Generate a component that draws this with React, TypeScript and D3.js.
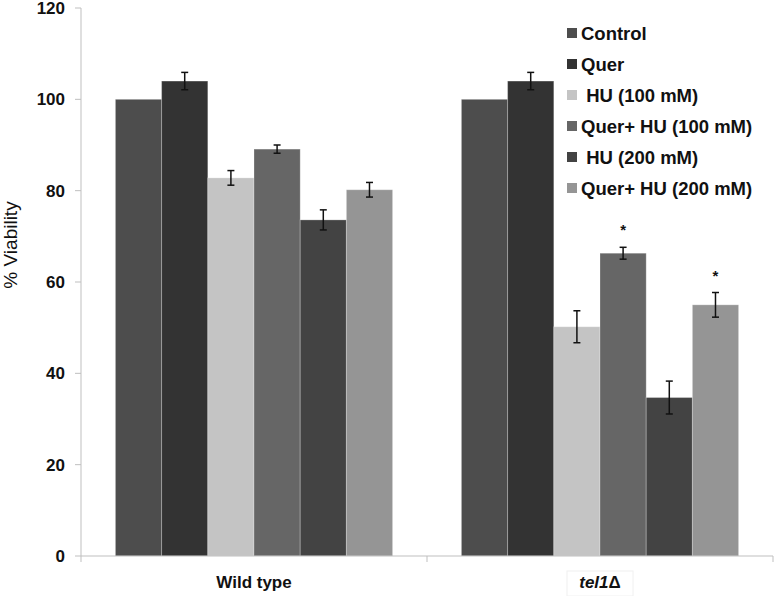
import React from "react";
import * as d3 from "d3";

const categories = ["Wild type", "tel1Δ"];
const seriesNames = ["Control", "Quer", " HU (100 mM)", "Quer+ HU (100 mM)", " HU (200 mM)", "Quer+ HU (200 mM)"];
const seriesColors = ["#4d4d4d", "#333333", "#c4c4c4", "#666666", "#434343", "#959595"];
const wildTypeValues = [100, 104.0, 82.8, 89.1, 73.6, 80.2];
const wildTypeErrors = [0, 1.9, 1.6, 0.9, 2.2, 1.6];
const tel1Values = [100, 104.0, 50.2, 66.3, 34.7, 55.0];
const tel1Errors = [0, 1.9, 3.5, 1.3, 3.6, 2.7];
const tel1Significant = [false, false, false, true, false, true];
const yTicks = [0, 20, 40, 60, 80, 100, 120];

const W = 774, H = 596;
const left = 81, right = 773, top = 8, bottom = 556;

export default function App() {
  const x0 = d3.scaleBand<string>().domain(categories).range([left, right]).paddingInner(0).paddingOuter(0);
  const x1 = d3.scaleBand<string>().domain(seriesNames).range([0, x0.bandwidth()]).paddingInner(0).paddingOuter(0.745);
  const y = d3.scaleLinear().domain([0, 120]).range([bottom, top]);

  const groups = [
    { cat: categories[0], values: wildTypeValues, errors: wildTypeErrors, sig: seriesNames.map(() => false) },
    { cat: categories[1], values: tel1Values, errors: tel1Errors, sig: tel1Significant },
  ];
  const font = "'Liberation Sans', Arial, sans-serif";
  const axisColor = "#bfbfbf";
  const telCx = x0(categories[1])! + x0.bandwidth() / 2;

  return (
    <svg width={W} height={H} style={{ position: "absolute", left: 0, top: 0, background: "#fff" }}>
      <rect x={0} y={0} width={W} height={H} fill="#fff" />
      {groups.map((g) => (
        <g key={g.cat} transform={`translate(${x0(g.cat)},0)`}>
          {g.values.map((v, i) => {
            const bx = x1(seriesNames[i])!;
            const bw = x1.bandwidth();
            const cx = bx + bw / 2;
            const e = g.errors[i];
            return (
              <g key={i}>
                <rect x={bx} y={y(v)} width={bw} height={bottom - y(v)} fill={seriesColors[i]} stroke="#ffffff" strokeOpacity={0.25} strokeWidth={1} />
                {e > 0 && (
                  <g stroke="#111" strokeWidth={1.5}>
                    <line x1={cx} x2={cx} y1={y(v + e)} y2={y(v - e)} />
                    <line x1={cx - 3.5} x2={cx + 3.5} y1={y(v + e)} y2={y(v + e)} />
                    <line x1={cx - 3.5} x2={cx + 3.5} y1={y(v - e)} y2={y(v - e)} />
                  </g>
                )}
                {g.sig[i] && (
                  <text x={cx} y={y(v + e) - 12} textAnchor="middle" fontFamily={font} fontWeight="bold" fontSize={15} fill="#111">*</text>
                )}
              </g>
            );
          })}
        </g>
      ))}
      <line x1={left} x2={left} y1={top} y2={bottom} stroke={axisColor} strokeWidth={1} />
      {yTicks.map((t) => (
        <g key={t}>
          <line x1={left - 6} x2={left} y1={y(t)} y2={y(t)} stroke={axisColor} />
          <text x={65} y={y(t)} dy="0.36em" textAnchor="end" fontFamily={font} fontWeight="bold" fontSize={17} fill="#111">{t}</text>
        </g>
      ))}
      <text transform={`translate(17,245) rotate(-90)`} textAnchor="middle" fontFamily={font} fontSize={19} fill="#111">% Viability</text>
      <line x1={left} x2={right} y1={bottom} y2={bottom} stroke={axisColor} />
      {[left, x0(categories[1])!, right].map((tx, i) => (
        <line key={i} x1={tx} x2={tx} y1={bottom} y2={bottom + 6} stroke={axisColor} />
      ))}
      <text x={x0(categories[0])! + x0.bandwidth() / 2} y={588} textAnchor="middle" fontFamily={font} fontWeight="bold" fontSize={17} fill="#111">{categories[0]}</text>
      <rect x={telCx - 33} y={571} width={66} height={25} fill="none" stroke="#f0f0f0" />
      <text x={telCx} y={588} textAnchor="middle" fontFamily={font} fontWeight="bold" fontSize={17} fill="#111">
        <tspan fontStyle="italic">{categories[1].slice(0, -1)}</tspan>
        <tspan>{categories[1].slice(-1)}</tspan>
      </text>
      {seriesNames.map((s, i) => {
        const cy = 33 + i * 31;
        return (
          <g key={s}>
            <rect x={567} y={cy - 5} width={10} height={10} fill={seriesColors[i]} />
            <text x={581} y={cy} dy="0.36em" fontFamily={font} fontWeight="bold" fontSize={18.5} fill="#111" style={{ whiteSpace: "pre" }}>{s}</text>
          </g>
        );
      })}
    </svg>
  );
}
